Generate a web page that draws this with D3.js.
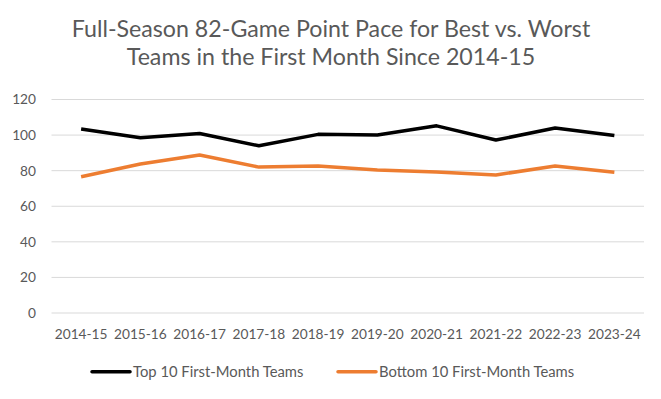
<!DOCTYPE html>
<html>
<head>
<meta charset="utf-8">
<script src="https://cdn.jsdelivr.net/npm/d3@7"></script>
<style>
  body { margin: 0; background: #fff; }
  svg { font-family: Lato, "Open Sans", sans-serif; }
</style>
</head>
<body>
<div id="chart"></div>
<script>
const seasons = ['2014-15', '2015-16', '2016-17', '2017-18', '2018-19', '2019-20', '2020-21', '2021-22', '2022-23', '2023-24'];
const topTeams = [103.4, 98.5, 100.9, 94.0, 100.4, 100.1, 105.2, 97.2, 104.0, 99.8];
const bottomTeams = [76.6, 83.7, 88.8, 82.0, 82.6, 80.4, 79.2, 77.6, 82.6, 79.1];
const yTicks = [0, 20, 40, 60, 80, 100, 120];
const seriesNames = ['Top 10 First-Month Teams', 'Bottom 10 First-Month Teams'];
const seriesColors = ['#000000', '#ED7D31'];

const width = 661, height = 399;
const margin = { top: 99.5, right: 17, bottom: 86, left: 51.5 };
const innerW = width - margin.left - margin.right;
const innerH = height - margin.top - margin.bottom;

const svg = d3.select('#chart').append('svg')
    .attr('width', width)
    .attr('height', height);

// title
const title = svg.append('text')
    .attr('text-anchor', 'middle')
    .attr('fill', '#595959')
    .style('font-size', '23.2px');
title.append('tspan').attr('x', 331).attr('y', 37).text('Full-Season 82-Game Point Pace for Best vs. Worst');
title.append('tspan').attr('x', 331).attr('y', 65).text('Teams in the First Month Since 2014-15');

const g = svg.append('g')
    .attr('transform', `translate(${margin.left},${margin.top})`);

const x = d3.scaleBand().domain(seasons).range([0, innerW]);
const y = d3.scaleLinear().domain([0, 120]).range([innerH, 0]);

// gridlines
g.append('g')
    .selectAll('line')
    .data(yTicks)
    .join('line')
    .attr('x1', 0)
    .attr('x2', innerW)
    .attr('y1', d => y(d))
    .attr('y2', d => y(d))
    .attr('stroke', '#d9d9d9')
    .attr('stroke-width', 1);

// y axis
const yAxis = g.append('g')
    .call(d3.axisLeft(y).tickValues(yTicks).tickSize(0).tickPadding(15.5));
yAxis.select('.domain').remove();
yAxis.selectAll('text')
    .attr('fill', '#595959')
    .style('font-size', '13.7px')
    .style('font-family', 'Lato, sans-serif');

// x axis
const xAxis = g.append('g')
    .attr('transform', `translate(0,${innerH})`)
    .call(d3.axisBottom(x).tickSize(0).tickPadding(16));
xAxis.select('.domain').remove();
xAxis.selectAll('text')
    .attr('fill', '#595959')
    .style('font-size', '13.7px')
    .style('font-family', 'Lato, sans-serif');

// lines
const line = d3.line()
    .x((d, i) => x(seasons[i]) + x.bandwidth() / 2)
    .y(d => y(d));

[topTeams, bottomTeams].forEach((vals, i) => {
    g.append('path')
        .datum(vals)
        .attr('d', line)
        .attr('fill', 'none')
        .attr('stroke', seriesColors[i])
        .attr('stroke-width', 3.5)
        .attr('stroke-linejoin', 'round');
});

// legend
const legendX = [92, 338];
const legend = svg.append('g');
seriesNames.forEach((name, i) => {
    legend.append('line')
        .attr('x1', legendX[i])
        .attr('x2', legendX[i] + 38)
        .attr('y1', 371.7)
        .attr('y2', 371.7)
        .attr('stroke', seriesColors[i])
        .attr('stroke-width', 3.5)
        .attr('stroke-linecap', 'round');
    legend.append('text')
        .attr('x', legendX[i] + 41)
        .attr('y', 377)
        .attr('fill', '#595959')
        .style('font-size', '14.8px')
        .text(name);
});
</script>
</body>
</html>
